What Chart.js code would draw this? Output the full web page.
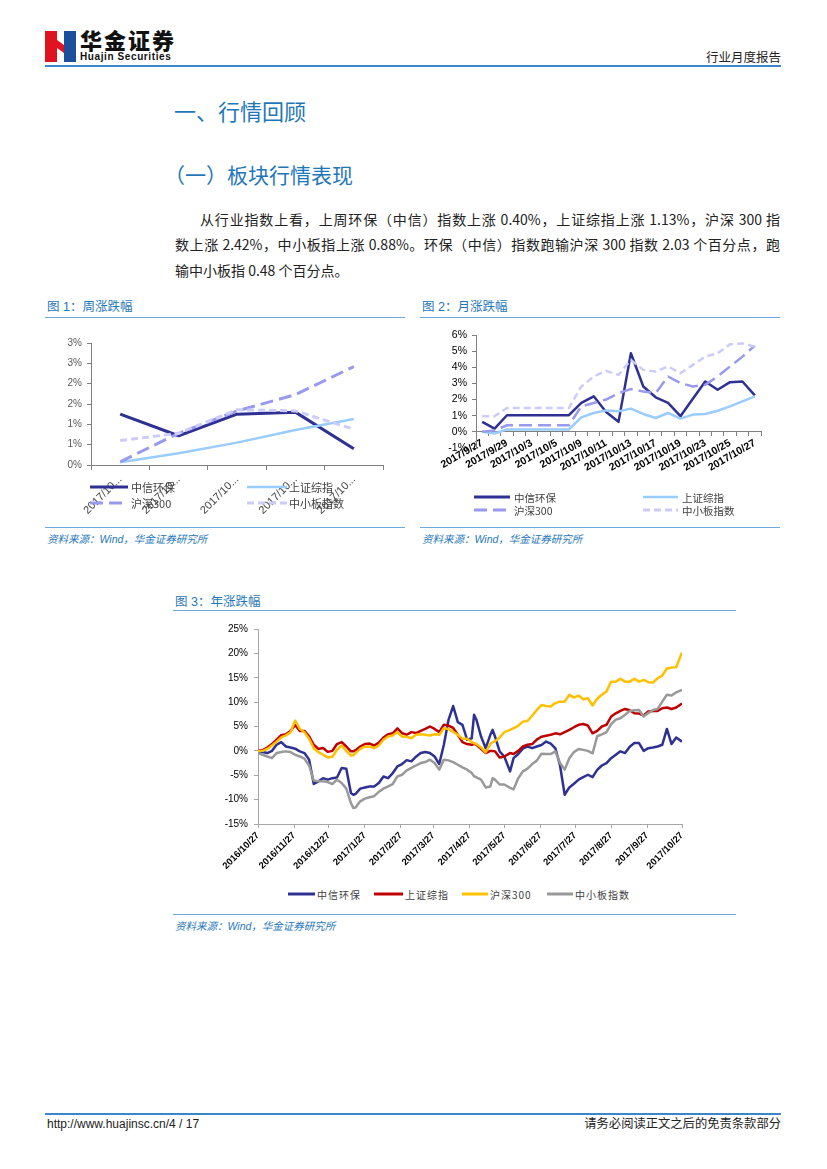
<!DOCTYPE html>
<html>
<head>
<meta charset="utf-8">
<script src="https://cdn.jsdelivr.net/npm/chart.js"></script>
<style>
  body { margin: 0; background: #fff; font-family: "Liberation Sans", "Noto Sans CJK SC", sans-serif; }
  #page { position: relative; width: 827px; height: 1169px; overflow: hidden; background: #fff; }
  .abs { position: absolute; white-space: nowrap; }
  .cap { font-size: 12.5px; color: #1F77B9; line-height: 14px; }
  .rule { position: absolute; height: 0; border-top: 1.5px solid #6FA8DC; }
  .src { font-size: 10.5px; color: #1F77B9; font-style: italic; line-height: 12px; }
  .body { position: absolute; font-family: "Noto Sans CJK SC", sans-serif; font-size: 14px; color: #222; line-height: 16px; white-space: nowrap; }
  .just { text-align: justify; text-align-last: justify; white-space: normal; }
  .lg { position: absolute; display: flex; align-items: center; height: 14px; white-space: nowrap; color: #404040; font-family: "Noto Sans CJK SC", sans-serif; }
  canvas { position: absolute; }
</style>
</head>
<body>
<div id="page">
  <!-- header -->
  <svg class="abs" style="left:45px;top:31px" width="31" height="31">
    <rect x="0" y="0" width="12" height="31" fill="#E0141E"/>
    <rect x="19" y="0" width="12" height="31" fill="#1B4F9C"/>
    <polygon points="12,9 19,14 19,22 12,17" fill="#E0141E"/>
  </svg>
  <div class="abs" style="left:80px;top:27px;font-family:'Noto Sans CJK SC';font-weight:900;font-size:22px;line-height:25px;letter-spacing:2px;color:#111">华金证券</div>
  <div class="abs" style="left:80px;top:51px;font-weight:bold;font-size:10px;line-height:12px;letter-spacing:0.6px;color:#111">Huajin Securities</div>
  <div class="abs" style="right:46px;top:49px;font-family:'Noto Sans CJK SC';font-size:12.5px;line-height:15px;color:#222">行业月度报告</div>
  <div class="abs" style="left:45px;top:65px;width:736px;height:2px;background:#3A86C8"></div>

  <!-- headings -->
  <div class="abs" style="left:174px;top:97px;font-family:'Noto Sans CJK SC';font-size:22px;line-height:26px;color:#1F77B9">一、行情回顾</div>
  <div class="abs" style="left:164px;top:162px;font-family:'Noto Sans CJK SC';font-size:21px;line-height:25px;color:#1F77B9">（一）板块行情表现</div>

  <div class="body just" style="left:200px;top:211px;width:580px">从行业指数上看，上周环保（中信）指数上涨 0.40%，上证综指上涨 1.13%，沪深 300 指</div>
  <div class="body just" style="left:175px;top:236px;width:605px">数上涨 2.42%，中小板指上涨 0.88%。环保（中信）指数跑输沪深 300 指数 2.03 个百分点，跑</div>
  <div class="body" style="left:175px;top:262px">输中小板指 0.48 个百分点。</div>

  <!-- figure 1 / 2 captions -->
  <div class="abs cap" style="left:47px;top:300px">图 1：周涨跌幅</div>
  <div class="rule" style="left:45px;top:317px;width:360px"></div>
  <div class="abs cap" style="left:422px;top:300px">图 2：月涨跌幅</div>
  <div class="rule" style="left:420px;top:317px;width:360px"></div>

  <canvas id="c1" width="350" height="190" style="left:45px;top:330px"></canvas>
  <canvas id="c2" width="360" height="160" style="left:420px;top:325px"></canvas>

  <div class="rule" style="left:45px;top:527px;width:360px"></div>
  <div class="abs src" style="left:47px;top:533px">资料来源：Wind，华金证券研究所</div>
  <div class="rule" style="left:420px;top:527px;width:360px"></div>
  <div class="abs src" style="left:422px;top:533px">资料来源：Wind，华金证券研究所</div>

  <!-- figure 3 -->
  <div class="abs cap" style="left:175px;top:595px">图 3：年涨跌幅</div>
  <div class="rule" style="left:173px;top:610px;width:563px"></div>
  <canvas id="c3" width="560" height="260" style="left:175px;top:620px"></canvas>
  <div class="rule" style="left:173px;top:914px;width:563px"></div>
  <div class="abs src" style="left:175px;top:920px">资料来源：Wind，华金证券研究所</div>

  <!-- footer -->
  <div class="abs" style="left:45px;top:1113px;width:736px;height:1.5px;background:#3A86C8"></div>
  <div class="abs" style="left:47px;top:1117px;font-family:'Liberation Sans Narrow','Liberation Sans';font-size:12px;line-height:14px;color:#222">http://www.huajinsc.cn/4 / 17</div>
  <div class="abs" style="right:46px;top:1116px;font-family:'Noto Sans CJK SC';font-size:12.3px;line-height:15px;color:#222">请务必阅读正文之后的免责条款部分</div>
</div>

<script>
// 系列名称
const seriesNames = ['中信环保', '上证综指', '沪深300', '中小板指数'];

// 图1 周涨跌幅 (%)
const weekDates = ['2017/10/23', '2017/10/24', '2017/10/25', '2017/10/26', '2017/10/27'];
const weekEnv = [1.25, 0.72, 1.25, 1.30, 0.40];
const weekSh  = [0.07, 0.29, 0.55, 0.86, 1.13];
const weekHs  = [0.08, 0.78, 1.33, 1.73, 2.42];
const weekSme = [0.60, 0.78, 1.36, 1.33, 0.88];

// 图2 月涨跌幅 (%)
const monthDates = ['2017/9/27', '2017/9/28', '2017/9/29', '2017/10/2', '2017/10/3', '2017/10/4', '2017/10/5', '2017/10/6',
  '2017/10/9', '2017/10/10', '2017/10/11', '2017/10/12', '2017/10/13', '2017/10/16', '2017/10/17', '2017/10/18',
  '2017/10/19', '2017/10/20', '2017/10/23', '2017/10/24', '2017/10/25', '2017/10/26', '2017/10/27'];
const monthEnv = [0.62, 0.20, 1.03, 1.03, 1.03, 1.03, 1.03, 1.03, 1.79, 2.20, 1.23, 0.62, 4.87, 2.81, 2.14, 1.79, 0.97, 2.05, 3.12, 2.61, 3.08, 3.12, 2.26];
const monthSh  = [0.00, -0.10, 0.15, 0.15, 0.15, 0.15, 0.15, 0.15, 0.90, 1.17, 1.33, 1.27, 1.44, 1.11, 0.86, 1.17, 0.82, 1.07, 1.11, 1.31, 1.58, 1.89, 2.20];
const monthHs  = [0.00, 0.08, 0.41, 0.41, 0.41, 0.41, 0.41, 0.41, 1.58, 1.79, 2.00, 2.40, 2.65, 2.50, 2.40, 3.43, 3.02, 2.81, 2.92, 3.43, 4.05, 4.66, 5.34];
const monthSme = [0.97, 0.97, 1.48, 1.48, 1.48, 1.48, 1.48, 1.48, 2.81, 3.43, 3.78, 3.53, 4.46, 3.84, 3.74, 4.05, 3.63, 4.15, 4.66, 4.87, 5.42, 5.48, 5.28];

// 图3 年涨跌幅: 距 2016/10/27 的天数, 数值 (%)
const yearTickDays = [0, 31, 61, 92, 123, 151, 182, 212, 243, 273, 304, 335, 365];
const yearTickLabels = ['2016/10/27', '2016/11/27', '2016/12/27', '2017/1/27', '2017/2/27', '2017/3/27', '2017/4/27',
  '2017/5/27', '2017/6/27', '2017/7/27', '2017/8/27', '2017/9/27', '2017/10/27'];
const yearDays = [0, 4, 8, 12, 16, 20, 24, 28, 32, 36, 40, 44, 48, 52, 56, 60, 64, 68, 72, 76, 80, 82, 84, 88, 92, 96, 100,
  104, 108, 112, 116, 120, 124, 128, 132, 136, 140, 144, 148, 152, 156, 160, 164, 168, 172, 176, 180, 184, 186, 188, 192,
  196, 200, 202, 204, 208, 212, 217, 220, 224, 228, 232, 236, 240, 244, 248, 252, 256, 260, 264, 268, 272, 276, 280, 284,
  288, 292, 296, 300, 304, 308, 312, 316, 320, 324, 328, 332, 336, 340, 344, 348, 352, 356, 360, 365];
const yearEnv = [-0.1, -0.25, -0.45, 0, 1.25, 1.8, 0.9, 0.7, 0.45, -0.1, -0.45, -1.8, -6.8, -6.25, -5.6, -5.9, -5.6, -5.45, -3.5, -3.65, -8.65, -9.0, -8.85,
  -7.75, -7.5, -7.3, -7.3, -6.6, -5.25, -5.6, -4.55, -3.2, -2.7, -1.9, -2.15, -1.2, -0.45, -0.25, -0.45, -1.15, -2.7, 1.25, 6.35, 9.2, 5.9, 5.35,
  2.3, 2.6, 7.4, 6.4, 2.95, 0.55, 3.3, 4.3, 2.95, -0.1, -1.15, -4.2, -1.5, -0.65, 0.45, 0.9, 0.55, 0.9, 1.2, 1.9, 1.5, 0.5, -3.0, -9.0,
  -7.5, -6.75, -5.9, -5.4, -4.9, -5.4, -3.9, -3.0, -2.5, -1.5, -0.8, -0.1, -0.45, 0.85, 1.6, 1.6, 0, 0.55, 0.7, 0.9, 1.25, 4.5, 1.4, 2.75, 1.9];
const yearSh = [0, 0.15, 0.7, 1.4, 2.3, 3.2, 3.4, 4.1, 5.3, 4.1, 4.1, 3.0, 1.25, 0.4, 0.6, -0.2, 0, 1.4, 1.8, 0.9, -0.1, -0.1, 0.15,
  0.9, 1.4, 1.5, 1.1, 1.7, 2.75, 3.4, 3.6, 4.6, 3.65, 3.3, 3.85, 3.65, 4.1, 4.5, 5.0, 4.5, 3.85, 5.35, 5.2, 4.7, 3.3, 1.8,
  1.4, 1.25, 1.5, 1.25, 0.4, -0.45, 0, 0, -0.1, -1.35, -1.15, -0.45, -0.65, 0, 0.9, 1.25, 1.4, 2.3, 2.9, 3.1, 3.3, 3.6, 3.4, 3.85,
  4.3, 4.85, 5.35, 5.5, 5.2, 3.6, 4.1, 5.0, 5.35, 7.05, 7.7, 8.2, 8.6, 8.35, 7.7, 7.65, 7.25, 8.1, 8.2, 8.2, 8.75, 8.9, 8.6, 8.9, 9.7];
const yearHs = [-0.1, 0, 0.4, 1.1, 1.9, 2.75, 3.2, 3.8, 6.2, 4.5, 3.8, 2.5, 0.55, -0.25, -0.8, -1.35, -1.2, 0.2, 1.1, 0, -0.95, -0.9, -0.45,
  0.4, 0.85, 0.9, 0.55, 1.1, 2.3, 2.95, 3.15, 3.85, 2.9, 2.9, 2.6, 3.3, 3.4, 3.3, 3.15, 3.4, 3.3, 4.65, 4.5, 3.9, 3.3, 2.5,
  2.5, 1.8, 1.6, 1.4, 0.7, -0.3, 1.4, 1.8, 1.95, 2.75, 3.85, 4.3, 4.65, 5.15, 6.0, 6.15, 7.2, 8.4, 9.4, 9.2, 9.1, 9.8, 10.1, 10.1,
  11.5, 10.95, 11.35, 10.6, 10.8, 9.3, 10.7, 11.5, 12.2, 14.2, 14.2, 14.8, 14.2, 14.2, 14.8, 14.2, 14.55, 14.1, 14.0, 14.9, 15.45, 16.9, 17.1, 17.15, 20.2];
const yearSme = [-0.45, -0.8, -1.15, -1.5, -0.45, -0.25, -0.1, -0.25, -0.8, -1.15, -1.6, -3.0, -6.1, -6.25, -6.25, -6.4, -6.8, -5.9, -6.6, -7.75, -10.7, -11.7, -11.6,
  -10.35, -9.8, -9.5, -9.3, -8.4, -7.75, -7.3, -6.8, -5.25, -4.9, -4.0, -3.5, -3.0, -2.5, -2.3, -1.8, -2.5, -3.85, -1.8, -1.95, -2.3, -2.85, -3.4,
  -3.85, -4.55, -5.2, -5.45, -5.9, -7.5, -7.3, -5.6, -5.9, -6.9, -6.9, -7.6, -7.9, -5.6, -4.2, -3.65, -2.7, -2.0, -0.6, -0.65, -0.65, -0.1, -2.5, -3.85,
  -1.5, -0.25, 0.4, 0.2, 0, -0.5, 3.0, 3.4, 3.85, 5.5, 6.4, 6.7, 7.4, 8.2, 8.35, 8.4, 7.05, 7.75, 8.4, 8.6, 10.1, 11.5, 11.35, 12.0, 12.5];

// 颜色
const C_ENV = '#2E3192', C_SH = '#99CCFF', C_HS = '#9999EE', C_SME = '#CCCCFA';
const Y_ENV = '#2E3192', Y_SH = '#C00000', Y_HS = '#FFC000', Y_SME = '#999999';

Chart.defaults.font.family = '"Liberation Sans", "Noto Sans CJK SC", sans-serif';
Chart.defaults.animation = false;

const noPad = s => { s.paddingTop = 0; s.paddingBottom = 0; s.paddingLeft = 0; s.paddingRight = 0; };

function ds(label, data, color, width, dash, order) {
  return { label, data, borderColor: color, backgroundColor: color, borderWidth: width, borderDash: dash || [],
    pointRadius: 0, tension: 0, fill: false, borderJoinStyle: 'round', order };
}

function addLegend(items) {
  const page = document.getElementById('page');
  items.forEach(it => {
    const el = document.createElement('div');
    el.className = 'lg';
    el.style.left = it.x + 'px';
    el.style.top = (it.y - 7) + 'px';
    el.style.fontSize = it.size + 'px';
    const dash = it.dash && it.dash.length ? ' stroke-dasharray="' + it.dash.join(' ') + '"' : '';
    el.innerHTML = '<svg width="' + it.len + '" height="14"><line x1="0" y1="7" x2="' + it.len + '" y2="7" stroke="' + it.color +
      '" stroke-width="' + it.w + '"' + dash + '/></svg><span style="margin-left:' + it.gap + 'px;letter-spacing:' + (it.ls || 0) + 'px">' + it.label + '</span>';
    page.appendChild(el);
  });
}

const plugins = { legend: { display: false }, tooltip: { enabled: false } };

// 图1
new Chart(document.getElementById('c1'), {
  type: 'line',
  data: {
    labels: weekDates,
    datasets: [
      ds(seriesNames[0], weekEnv, C_ENV, 3, [], 3),
      ds(seriesNames[1], weekSh, C_SH, 2.5, [], 2),
      ds(seriesNames[2], weekHs, C_HS, 3, [13, 6], 1),
      ds(seriesNames[3], weekSme, C_SME, 3, [7, 4], 0)
    ]
  },
  options: {
    responsive: false,
    layout: { padding: { left: 0, right: 12, top: 13, bottom: 0 } },
    plugins,
    scales: {
      x: {
        offset: true,
        grid: { display: true, drawOnChartArea: false, offset: true, tickLength: 5, color: '#808080' },
        border: { color: '#808080' },
        ticks: { autoSkip: false, minRotation: 45, maxRotation: 45, padding: 3, color: '#404040', font: { size: 11 },
          callback: (v, i) => weekDates[i].slice(0, 7) + '...' },
        afterFit: s => { s.height = 55; noPad(s); }
      },
      y: {
        min: 0, max: 3,
        grid: { display: true, drawOnChartArea: false, tickLength: 4, color: '#808080' },
        border: { color: '#808080' },
        ticks: { stepSize: 0.5, padding: 5, color: '#595959', font: { size: 10 }, callback: v => Math.round(v) + '%' },
        afterFit: s => { s.width = 46; noPad(s); }
      }
    }
  }
});

// 图2
new Chart(document.getElementById('c2'), {
  type: 'line',
  data: {
    labels: monthDates,
    datasets: [
      ds(seriesNames[0], monthEnv, C_ENV, 2.5, [], 3),
      ds(seriesNames[1], monthSh, C_SH, 2.5, [], 2),
      ds(seriesNames[2], monthHs, C_HS, 2.5, [13, 6], 1),
      ds(seriesNames[3], monthSme, C_SME, 2.5, [7, 4], 0)
    ]
  },
  options: {
    responsive: false,
    layout: { padding: { left: 0, right: 19, top: 10, bottom: 37 } },
    plugins,
    scales: {
      x: {
        position: { y: 0 },
        offset: true,
        grid: { display: true, drawOnChartArea: false, offset: true, tickLength: 4, color: '#808080' },
        border: { color: '#808080' },
        ticks: { autoSkip: false, minRotation: 30, maxRotation: 30, padding: 1, color: '#000', font: { size: 10.5, weight: 'bold' },
          callback: (v, i) => (i % 2 === 0 ? monthDates[i] : '') },
        afterFit: s => { noPad(s); }
      },
      y: {
        min: -1, max: 6,
        grid: { display: true, drawOnChartArea: false, tickLength: 4, color: '#808080' },
        border: { color: '#808080' },
        ticks: { stepSize: 1, padding: 5, color: '#000', font: { size: 10.5 }, callback: v => v + '%' },
        afterFit: s => { s.width = 56; noPad(s); }
      }
    }
  }
});

// 图3
const pts = vals => yearDays.map((d, i) => ({ x: d, y: vals[i] }));
new Chart(document.getElementById('c3'), {
  type: 'line',
  data: {
    datasets: [
      ds(seriesNames[0], pts(yearEnv), Y_ENV, 2.5, [], 3),
      ds(seriesNames[1], pts(yearSh), Y_SH, 2.5, [], 2),
      ds(seriesNames[2], pts(yearHs), Y_HS, 2.5, [], 1),
      ds(seriesNames[3], pts(yearSme), Y_SME, 2.5, [], 0)
    ]
  },
  options: {
    responsive: false,
    layout: { padding: { left: 0, right: 53, top: 9, bottom: 0 } },
    plugins,
    scales: {
      x: {
        type: 'linear', min: 0, max: 365,
        afterBuildTicks: s => { s.ticks = yearTickDays.map(v => ({ value: v })); },
        grid: { display: true, drawOnChartArea: false, tickLength: 4, color: '#A6A6A6' },
        border: { color: '#A6A6A6' },
        ticks: { autoSkip: false, minRotation: 45, maxRotation: 45, padding: 2, color: '#000', font: { size: 9.5, weight: 'bold' },
          callback: v => yearTickLabels[yearTickDays.indexOf(v)] },
        afterFit: s => { s.height = 56; noPad(s); }
      },
      y: {
        min: -15, max: 25,
        grid: { display: true, drawOnChartArea: false, tickLength: 4, color: '#A6A6A6' },
        border: { color: '#A6A6A6' },
        ticks: { stepSize: 5, padding: 6, color: '#000', font: { size: 10 }, callback: v => v + '%' },
        afterFit: s => { s.width = 83; noPad(s); }
      }
    }
  }
});

// 图例
addLegend([
  { x: 90, y: 487, len: 38, gap: 3, color: C_ENV, w: 3, dash: [], label: seriesNames[0], size: 11 },
  { x: 247, y: 487, len: 40, gap: 2, color: C_SH, w: 2.5, dash: [], label: seriesNames[1], size: 11 },
  { x: 90, y: 503, len: 38, gap: 3, color: C_HS, w: 3, dash: [13, 6], label: seriesNames[2], size: 11 },
  { x: 247, y: 503, len: 40, gap: 2, color: C_SME, w: 3, dash: [7, 4], label: seriesNames[3], size: 11 },
  { x: 474, y: 497, len: 36, gap: 4, color: C_ENV, w: 3, dash: [], label: seriesNames[0], size: 10.5 },
  { x: 643, y: 497, len: 35, gap: 4, color: C_SH, w: 2.5, dash: [], label: seriesNames[1], size: 10.5 },
  { x: 474, y: 510, len: 36, gap: 4, color: C_HS, w: 3, dash: [13, 6], label: seriesNames[2], size: 10.5 },
  { x: 643, y: 510, len: 35, gap: 4, color: C_SME, w: 3, dash: [7, 4], label: seriesNames[3], size: 10.5 },
  { x: 288, y: 894, len: 27, gap: 2, color: Y_ENV, w: 3, dash: [], label: seriesNames[0], size: 10, ls: 1 },
  { x: 374, y: 894, len: 29, gap: 2, color: Y_SH, w: 3, dash: [], label: seriesNames[1], size: 10, ls: 1 },
  { x: 462, y: 894, len: 26, gap: 2, color: Y_HS, w: 3, dash: [], label: seriesNames[2], size: 10, ls: 1 },
  { x: 547, y: 894, len: 26, gap: 2, color: Y_SME, w: 3, dash: [], label: seriesNames[3], size: 10, ls: 1 }
]);
</script>
</body>
</html>
